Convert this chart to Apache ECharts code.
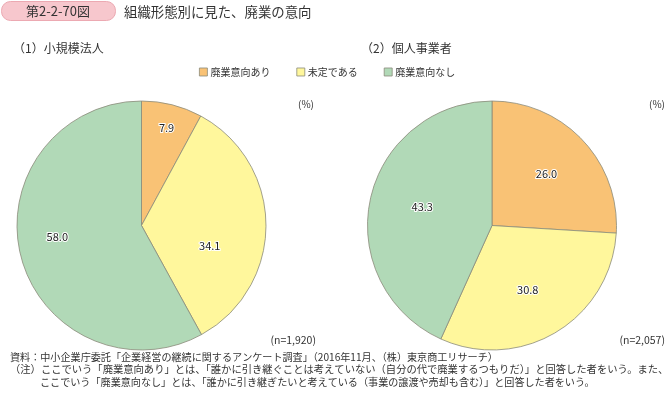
<!DOCTYPE html>
<html>
<head>
<meta charset="utf-8">
<script src="https://cdn.jsdelivr.net/npm/echarts@6/dist/echarts.min.js"></script>
<style>
html,body{margin:0;padding:0;background:#fff;}
#c{width:668px;height:393px;}
</style>
</head>
<body>
<div id="c"></div>
<script>
const categories = ['廃業意向あり', '未定である', '廃業意向なし'];
const smallCorpValues = [7.9, 34.1, 58.0];
const soleProprietorValues = [26.0, 30.8, 43.3];
const panelTitles = ['（1）小規模法人', '（2）個人事業者'];
const sampleSizes = ['(n=1,920)', '(n=2,057)'];
const figureNo = '第2-2-70図';
const chartTitle = '組織形態別に見た、廃業の意向';
const footnotes = [
  '資料：中小企業庁委託「企業経営の継続に関するアンケート調査」（2016年11月、（株）東京商工リサーチ）',
  '（注）ここでいう「廃業意向あり」とは、「誰かに引き継ぐことは考えていない（自分の代で廃業するつもりだ）」と回答した者をいう。また、',
  'ここでいう「廃業意向なし」とは、「誰かに引き継ぎたいと考えている（事業の譲渡や売却も含む）」と回答した者をいう。'
];

const colors = ['#f9c275', '#fff79c', '#b1d9b7'];
const FONT = '"Noto Sans CJK JP", "Noto Sans", sans-serif';
const TXT = '#333';

// label nudges (styling only)
const leftOffsets = [[9, -34], [3, 21], [-21, -5]];
const rightOffsets = [[7, -7], [2, 8], [-6, -5]];

function buildData(values, offsets) {
  return categories.map((name, i) => ({
    name: name,
    value: values[i],
    label: { offset: offsets[i] }
  }));
}

function pieSeries(values, offsets, center) {
  return {
    type: 'pie',
    center: center,
    radius: 124.5,
    startAngle: 90,
    clockwise: true,
    animation: false,
    silent: true,
    itemStyle: { borderColor: '#8a8a7a', borderWidth: 0.8 },
    label: {
      show: true,
      position: 'inside',
      formatter: p => p.value.toFixed(1),
      fontFamily: FONT,
      fontSize: 11,
      color: '#222',
      textBorderColor: '#fff',
      textBorderWidth: 2
    },
    labelLine: { show: false },
    emphasis: { disabled: true },
    data: buildData(values, offsets)
  };
}

const chart = echarts.init(document.getElementById('c'), null, { renderer: 'canvas' });
chart.setOption({
  backgroundColor: '#fff',
  color: colors,
  textStyle: { fontFamily: FONT },
  legend: {
    data: categories,
    left: 194,
    top: 62,
    icon: 'rect',
    itemWidth: 8,
    itemHeight: 8,
    itemGap: 26,
    itemStyle: { borderColor: '#8a8a7a', borderWidth: 0.8 },
    textStyle: { fontFamily: FONT, fontSize: 10, color: TXT, padding: [0, 0, 0, -2] },
    selectedMode: false
  },
  graphic: [
    { type: 'rect', shape: { x: 1.5, y: 1.5, width: 114, height: 19, r: 9 },
      style: { fill: '#f7c7cd', stroke: '#eca9b2', lineWidth: 1 } },
    { type: 'text', x: 58, y: 11.5, style: { text: figureNo, fontFamily: FONT, fontSize: 13, fill: '#333',
      align: 'center', verticalAlign: 'middle' } },
    { type: 'text', x: 124, y: 11.5, style: { text: chartTitle, fontFamily: FONT, fontSize: 13.4, fill: '#333',
      verticalAlign: 'middle' } },
    { type: 'text', x: 13, y: 48, style: { text: panelTitles[0], fontFamily: FONT, fontSize: 12, fill: '#333', verticalAlign: 'middle' } },
    { type: 'text', x: 361, y: 48, style: { text: panelTitles[1], fontFamily: FONT, fontSize: 12, fill: '#333', verticalAlign: 'middle' } },
    { type: 'text', x: 306, y: 104, style: { text: '(%)', fontFamily: FONT, fontSize: 10, fill: TXT, align: 'center', verticalAlign: 'middle' } },
    { type: 'text', x: 657, y: 104, style: { text: '(%)', fontFamily: FONT, fontSize: 10, fill: TXT, align: 'center', verticalAlign: 'middle' } },
    { type: 'text', x: 316, y: 340, style: { text: sampleSizes[0], fontFamily: FONT, fontSize: 10.5, fill: TXT, align: 'right', verticalAlign: 'middle' } },
    { type: 'text', x: 665, y: 340, style: { text: sampleSizes[1], fontFamily: FONT, fontSize: 10.5, fill: TXT, align: 'right', verticalAlign: 'middle' } },
    { type: 'text', x: 10, y: 357, style: { text: footnotes[0], fontFamily: FONT, fontSize: 10.1, fill: TXT, verticalAlign: 'middle' } },
    { type: 'text', x: 10, y: 369.5, style: { text: footnotes[1], fontFamily: FONT, fontSize: 10.3, fill: TXT, verticalAlign: 'middle' } },
    { type: 'text', x: 40, y: 382, style: { text: footnotes[2], fontFamily: FONT, fontSize: 10.1, fill: TXT, verticalAlign: 'middle' } }
  ],
  series: [
    pieSeries(smallCorpValues, leftOffsets, [141.5, 225.5]),
    pieSeries(soleProprietorValues, rightOffsets, [492, 225.5])
  ]
});
</script>
</body>
</html>
